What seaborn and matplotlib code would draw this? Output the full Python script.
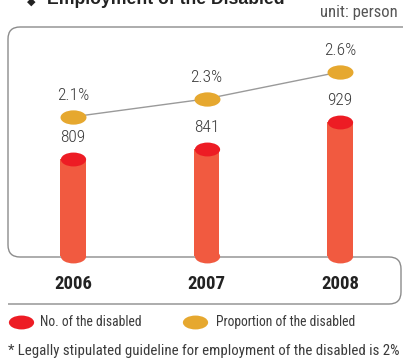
import numpy as np
import pandas as pd
import matplotlib
matplotlib.use("Agg")
import matplotlib.pyplot as plt
from matplotlib import font_manager
from matplotlib.path import Path
from matplotlib.patches import PathPatch
from matplotlib.markers import MarkerStyle
import seaborn as sns

# ---- data -------------------------------------------------------------
years = ["2006", "2007", "2008"]
disabled_count = [809, 841, 929]
disabled_share = [2.1, 2.3, 2.6]          # percent of workforce
count_labels = ["809", "841", "929"]
share_labels = ["2.1%", "2.3%", "2.6%"]

title = "Employment of the Disabled"
unit_text = "unit: person"
legend_labels = ["No. of the disabled", "Proportion of the disabled"]
footnote = "* Legally stipulated guideline for employment of the disabled is 2%"

# ---- fonts ------------------------------------------------------------
sns.set_theme(style="white")


def first_available(families):
    for fam in families:
        try:
            font_manager.findfont(font_manager.FontProperties(family=fam),
                                  fallback_to_default=False)
            return fam, True
        except Exception:
            continue
    return None, False


narrow, found = first_available(["Liberation Sans Narrow", "Roboto Condensed",
                                 "Open Sans Condensed"])
if found:
    BODY = narrow
    scale = 1.0
else:
    BODY = "Liberation Sans"
    scale = 0.84
plt.rcParams["font.family"] = [BODY, "DejaVu Sans"]


def fs(pt):
    return pt * scale


BAR_BODY = "#F15A40"
BAR_CAP = "#ED1C24"
GOLD = "#E6A82F"
TEXT = "#3a3a3a"
FRAME = "#8c8c8c"

W, H = 403, 360
fig = plt.figure(figsize=(W / 100, H / 100), dpi=100)

# flat ellipse used for bar caps, bar bottoms and the share markers
circle = Path.unit_circle()
ellipse_path = Path(circle.vertices * np.array([1.0, 0.55]), circle.codes)
ELLIPSE = MarkerStyle(ellipse_path)

# ---- background frame (pixel coordinates) -----------------------------
bg = fig.add_axes([0, 0, 1, 1], zorder=0)
bg.set_xlim(0, W)
bg.set_ylim(H, 0)
bg.axis("off")

r = 12
verts = [
    (W + 2, 27), (8 + r, 27), (8, 27), (8, 27 + r),
    (8, 257 - r), (8, 257), (8 + r, 257),
    (401 - r, 257), (401, 257), (401, 257 + r),
    (401, 304 - r), (401, 304), (401 - r, 304),
    (8, 304),
]
codes = [Path.MOVETO, Path.LINETO, Path.CURVE3, Path.CURVE3,
         Path.LINETO, Path.CURVE3, Path.CURVE3,
         Path.LINETO, Path.CURVE3, Path.CURVE3,
         Path.LINETO, Path.CURVE3, Path.CURVE3,
         Path.LINETO]
bg.add_patch(PathPatch(Path(verts, codes), fill=False, ec=FRAME, lw=1.0))

bg.text(31, 1.5, "\u25c6", fontsize=8, color="#222222", ha="center",
        va="center", family=["DejaVu Sans"])
bg.text(47, 3.5, title, fontsize=12.7, fontweight="bold", color="#222222",
        va="baseline", ha="left", family=["Liberation Sans", "DejaVu Sans"])
bg.text(398, 13, unit_text, fontsize=fs(12), color="#555555", ha="right", va="center")

# legend
bg.scatter([20.5], [322], s=330, marker=ELLIPSE, color=BAR_CAP, linewidths=0)
bg.text(40, 322, legend_labels[0], fontsize=fs(9.8), color=TEXT, va="center", ha="left")
bg.scatter([195], [322], s=330, marker=ELLIPSE, color=GOLD, linewidths=0)
bg.text(216, 322, legend_labels[1], fontsize=fs(9.8), color=TEXT, va="center", ha="left")

bg.text(8, 351, footnote, fontsize=fs(10.7), color=TEXT, va="center", ha="left")

# ---- main chart -------------------------------------------------------
ax_left, ax_w = 6.25, 400.5
ax_top, ax_bot = 27, 256
ax = fig.add_axes([ax_left / W, (H - ax_bot) / H, ax_w / W, (ax_bot - ax_top) / H], zorder=1)
ax.patch.set_alpha(0)

df = pd.DataFrame({"year": years, "count": disabled_count, "share": disabled_share})

sns.barplot(data=df, x="year", y="count", color=BAR_BODY, saturation=1,
            width=0.19, ax=ax, linewidth=0)
ax.set_xlim(-0.5, 2.5)
ax.set_ylim(490, 1243)
xs = np.arange(len(years))

# rounded bottoms and bright caps of the cylinders
base = ax.get_ylim()[0]
ax.scatter(xs, [base] * len(xs), s=330, marker=ELLIPSE, color=BAR_BODY,
           linewidths=0, zorder=3, clip_on=False)
ax.scatter(xs, df["count"], s=330, marker=ELLIPSE, color=BAR_CAP,
           linewidths=0, zorder=4, clip_on=False)
for x, v, lab in zip(xs, df["count"], count_labels):
    ax.annotate(lab, (x, v), xytext=(0, 15.5), textcoords="offset points",
                ha="center", va="center", fontsize=fs(12.5), color=TEXT,
                fontweight="light")

ax.set_xlabel("")
ax.set_ylabel("")
ax.set_yticks([])
ax.tick_params(axis="x", length=0, pad=14)
for t in ax.get_xticklabels():
    t.set_fontsize(fs(13.5))
    t.set_fontweight("bold")
    t.set_color("#222222")
sns.despine(ax=ax, left=True, bottom=True)

# share of the disabled on a secondary scale
ax2 = ax.twinx()
ax2.patch.set_alpha(0)
sns.lineplot(data=df, x=xs, y="share", color="#9a9a9a", linewidth=1.0,
             ax=ax2, zorder=2)
ax2.scatter(xs, df["share"], s=350, marker=ELLIPSE, color=GOLD,
            linewidths=0, zorder=3)
ax2.set_ylim(0.55, 3.1)
ax2.set_xlim(-0.5, 2.5)
for x, v, lab in zip(xs, df["share"], share_labels):
    ax2.annotate(lab, (x, v), xytext=(0, 15.5), textcoords="offset points",
                 ha="center", va="center", fontsize=fs(12.5), color=TEXT,
                 fontweight="light")
ax2.set_ylabel("")
ax2.set_yticks([])
sns.despine(ax=ax2, left=True, bottom=True, right=True)

fig.savefig("out.png", dpi=100)
